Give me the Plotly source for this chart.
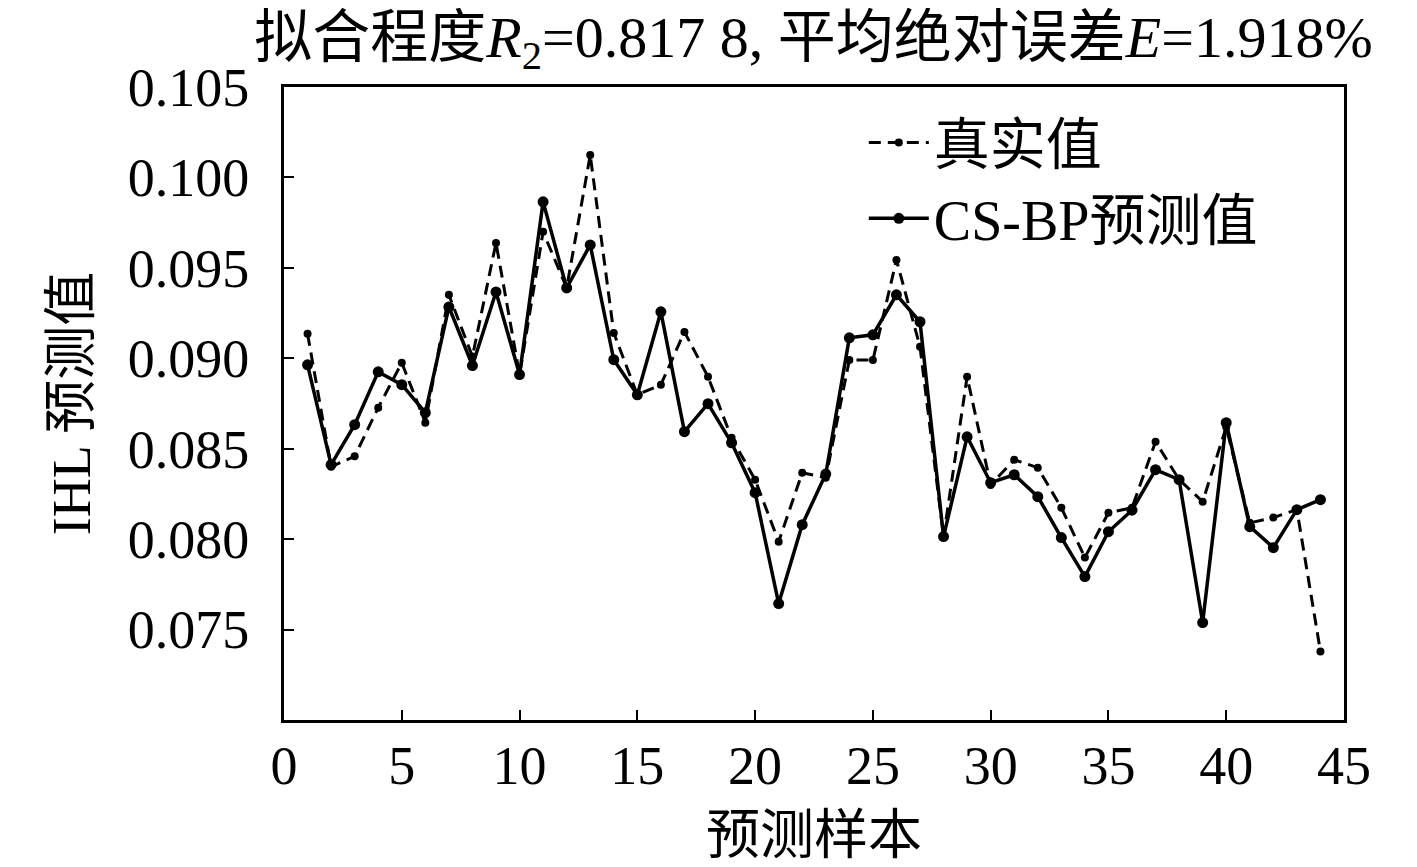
import plotly.graph_objects as go

samples = list(range(1, 45))
true_vals = [0.09135, 0.0840, 0.08458, 0.08727, 0.08975, 0.08644, 0.09351, 0.0901, 0.09638, 0.08909,
             0.09699, 0.09389, 0.10124, 0.0914, 0.08798, 0.08854, 0.09146, 0.08898, 0.0856, 0.08329,
             0.07986, 0.08367, 0.0834, 0.0899, 0.0899, 0.09544, 0.09064, 0.08014, 0.08898, 0.0830,
             0.08439, 0.08395, 0.08174, 0.07898, 0.08146, 0.08174, 0.08539, 0.08329, 0.08207, 0.0862,
             0.0809, 0.08119, 0.08163, 0.07379]
pred_vals = [0.08964, 0.08412, 0.08633, 0.08925, 0.08854, 0.08699, 0.09284, 0.0896, 0.09367, 0.0891,
             0.09865, 0.09389, 0.09627, 0.08992, 0.08798, 0.09257, 0.08594, 0.08749, 0.08533, 0.08257,
             0.07644, 0.0808, 0.0836, 0.09113, 0.0913, 0.09351, 0.09202, 0.08014, 0.08566, 0.08312,
             0.08356, 0.08235, 0.08009, 0.07793, 0.08041, 0.0816, 0.08384, 0.08329, 0.07539, 0.08644,
             0.08069, 0.07953, 0.08163, 0.08218]

x_ticks = [0, 5, 10, 15, 20, 25, 30, 35, 40, 45]
y_ticks = [0.075, 0.080, 0.085, 0.090, 0.095, 0.100, 0.105]
y_tick_text = ["0.075", "0.080", "0.085", "0.090", "0.095", "0.100", "0.105"]

FONT = "Liberation Serif, Times New Roman, Noto Sans CJK SC, serif"

fig = go.Figure()
fig.add_trace(go.Scatter(
    x=samples, y=true_vals, name="真实值", mode="lines+markers",
    line=dict(color="black", width=3, dash="12px,7px"),
    marker=dict(color="black", size=8, symbol="circle"),
))
fig.add_trace(go.Scatter(
    x=samples, y=pred_vals, name="CS-BP预测值", mode="lines+markers",
    line=dict(color="black", width=3.5),
    marker=dict(color="black", size=11, symbol="circle"),
))

fig.update_layout(
    width=1401, height=859,
    paper_bgcolor="white", plot_bgcolor="white",
    margin=dict(l=276, r=65, t=79, b=147, autoexpand=False),
    font=dict(family=FONT, size=54, color="black"),
    title=dict(
        text="拟合程度<i>R</i><sub>2</sub>=0.817 8, 平均绝对误差<i>E</i>=1.918%",
        x=0.575, xref="container", xanchor="center",
        y=0.990, yref="container", yanchor="top",
        font=dict(family=FONT, size=58, color="black"),
        automargin=False,
    ),
    legend=dict(
        x=0.547, y=0.98, xanchor="left", yanchor="top",
        bgcolor="rgba(0,0,0,0)", font=dict(family=FONT, size=56, color="black"),
        tracegroupgap=0, itemwidth=60,
    ),
    showlegend=True,
)

fig.update_xaxes(
    range=[0, 45], tickvals=x_ticks, automargin=False,
    showline=True, linecolor="black", linewidth=3, mirror=True,
    ticks="inside", ticklen=10, tickwidth=2, tickcolor="black",
    showgrid=False, zeroline=False,
    tickfont=dict(family=FONT, size=54),
    ticklabelstandoff=-4,
    title=dict(text="预测样本", font=dict(family=FONT, size=54), standoff=22),
)
fig.update_yaxes(
    range=[0.070, 0.105], tickvals=y_ticks, ticktext=y_tick_text, automargin=False,
    showline=True, linecolor="black", linewidth=3, mirror=True,
    ticks="inside", ticklen=10, tickwidth=2, tickcolor="black",
    showgrid=False, zeroline=False,
    tickfont=dict(family=FONT, size=54),
    ticklabelstandoff=21,
    title=dict(text="IHL 预测值", font=dict(family=FONT, size=54), standoff=20),
)

fig.write_html("out.html")
